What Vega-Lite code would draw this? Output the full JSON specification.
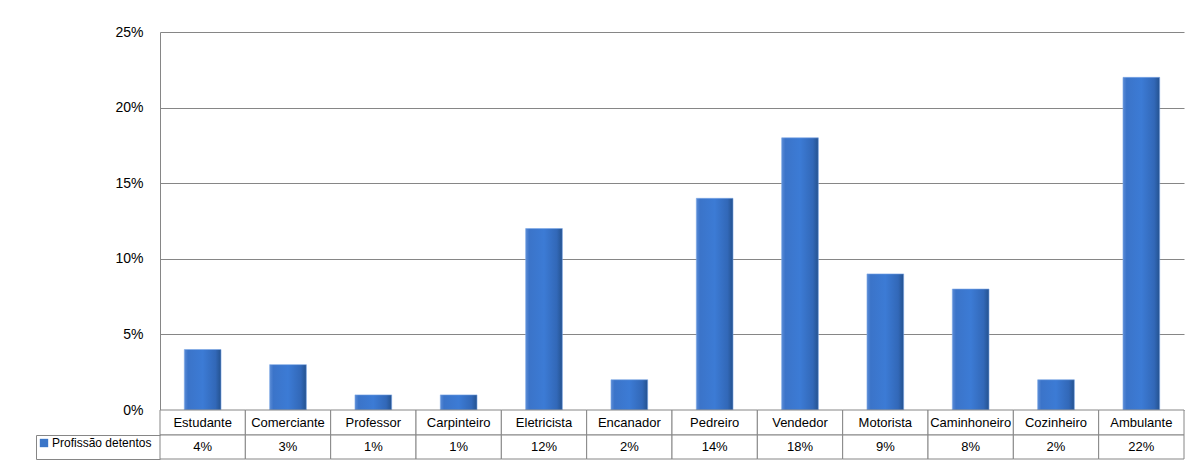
{
  "$schema": "https://vega.github.io/schema/vega-lite/v6.json",
  "background": "white",
  "padding": {"left": 35, "top": 25, "right": 7, "bottom": 0},
  "spacing": 0,
  "bounds": "flush",
  "config": {
    "view": {"stroke": null},
    "font": "Liberation Sans",
    "axis": {"labelFont": "Liberation Sans", "labelColor": "#000000", "domainColor": "#868686", "tickColor": "#868686", "gridColor": "#868686"}
  },
  "datasets": {
    "d": [
      {"profissao": "Estudante", "pct": 0.04, "serie": "Profissão detentos"},
      {"profissao": "Comerciante", "pct": 0.03, "serie": "Profissão detentos"},
      {"profissao": "Professor", "pct": 0.01, "serie": "Profissão detentos"},
      {"profissao": "Carpinteiro", "pct": 0.01, "serie": "Profissão detentos"},
      {"profissao": "Eletricista", "pct": 0.12, "serie": "Profissão detentos"},
      {"profissao": "Encanador", "pct": 0.02, "serie": "Profissão detentos"},
      {"profissao": "Pedreiro", "pct": 0.14, "serie": "Profissão detentos"},
      {"profissao": "Vendedor", "pct": 0.18, "serie": "Profissão detentos"},
      {"profissao": "Motorista", "pct": 0.09, "serie": "Profissão detentos"},
      {"profissao": "Caminhoneiro", "pct": 0.08, "serie": "Profissão detentos"},
      {"profissao": "Cozinheiro", "pct": 0.02, "serie": "Profissão detentos"},
      {"profissao": "Ambulante", "pct": 0.22, "serie": "Profissão detentos"}
    ]
  },
  "vconcat": [
    {
      "width": 1024,
      "height": 378,
      "data": {"name": "d"},
      "mark": {
        "type": "bar",
        "stroke": "#7aa6e6",
        "strokeWidth": 0.6,
        "color": {
          "gradient": "linear", "x1": 0, "x2": 1, "y1": 0, "y2": 0,
          "stops": [
            {"offset": 0, "color": "#5a8bd6"},
            {"offset": 0.1, "color": "#3b74c9"},
            {"offset": 0.5, "color": "#3c7bd5"},
            {"offset": 0.85, "color": "#3268b8"},
            {"offset": 1, "color": "#24528f"}
          ]
        }
      },
      "encoding": {
        "x": {
          "field": "profissao", "type": "nominal", "sort": null,
          "scale": {"paddingInner": 0.57, "paddingOuter": 0.285},
          "axis": null
        },
        "y": {
          "field": "pct", "type": "quantitative",
          "scale": {"domain": [0, 0.25]},
          "axis": {"title": null, "format": ".0%", "values": [0, 0.05, 0.1, 0.15, 0.2, 0.25], "ticks": false, "labelPadding": 17, "labelFontSize": 14, "minExtent": 124, "maxExtent": 124, "grid": true}
        }
      }
    },
    {
      "width": 1024,
      "height": 25,
      "data": {"name": "d"},
      "layer": [
        {
          "mark": {"type": "rect", "fill": "white", "stroke": "#868686", "strokeWidth": 1},
          "encoding": {
            "x": {"field": "profissao", "type": "nominal", "sort": null, "scale": {"paddingInner": 0, "paddingOuter": 0}, "axis": null}
          }
        },
        {
          "mark": {"type": "text", "fontSize": 13, "font": "Liberation Sans", "baseline": "middle", "color": "#000000"},
          "encoding": {
            "x": {"field": "profissao", "type": "nominal", "sort": null},
            "text": {"field": "profissao", "type": "nominal"}
          }
        }
      ]
    },
    {
      "width": 1024,
      "height": 24,
      "data": {"name": "d"},
      "layer": [
        {
          "mark": {"type": "rect", "fill": "white", "stroke": "#868686", "strokeWidth": 1},
          "encoding": {
            "x": {"field": "profissao", "type": "nominal", "sort": null, "scale": {"paddingInner": 0, "paddingOuter": 0}, "axis": null},
            "y": {
              "datum": "Profissão detentos", "type": "nominal",
              "axis": {"title": null, "labels": false, "ticks": true, "offset": 124, "tickSize": -124, "tickBand": "extent", "domain": true, "minExtent": 0, "maxExtent": 0}
            }
          }
        },
        {
          "mark": {"type": "text", "fontSize": 13, "font": "Liberation Sans", "baseline": "middle"},
          "encoding": {
            "x": {"field": "profissao", "type": "nominal", "sort": null},
            "text": {"field": "pct", "type": "quantitative", "format": ".0%"},
            "color": {
              "condition": {
                "test": "false",
                "field": "serie", "type": "nominal",
                "scale": {"range": ["#3a75c8"]},
                "legend": {
                  "orient": "none", "legendX": -122, "legendY": 405, "title": null,
                  "symbolType": "square", "symbolSize": 70, "labelFontSize": 12, "labelFont": "Liberation Sans",
                  "labelOffset": 2, "padding": 0, "symbolStrokeWidth": 0, "symbolOpacity": 1
                }
              },
              "value": "#000000"
            }
          }
        }
      ]
    }
  ]
}
